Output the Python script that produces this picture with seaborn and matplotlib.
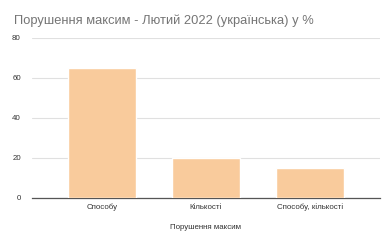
import matplotlib
matplotlib.use("Agg")
import matplotlib.pyplot as plt
import seaborn as sns
import pandas as pd

categories = ["Способу", "Кількості", "Способу, кількості"]
values = [65, 20, 15]
yticks = [0, 20, 40, 60, 80]
title = "Порушення максим - Лютий 2022 (українська) у %"
xlabel = "Порушення максим"

sns.set_theme(style="white")
plt.rcParams['font.family'] = ['Liberation Sans', 'DejaVu Sans']

df = pd.DataFrame({"cat": categories, "val": values})
fig = plt.figure(figsize=(3.85, 2.42), dpi=100)
ax = fig.add_axes([0.083, 0.182, 0.904, 0.661])
sns.barplot(data=df, x="cat", y="val", color="#F9CB9C", saturation=1, width=0.65, ax=ax, zorder=3)
ax.set_ylim(0, 80)
ax.set_xlim(-0.67, 2.67)
ax.set_yticks(yticks)
ax.set_yticklabels([str(t) for t in yticks])
ax.yaxis.grid(True, color="#e0e0e0", linewidth=0.8, zorder=0)
ax.set_axisbelow(True)
for s in ["top", "right", "left"]:
    ax.spines[s].set_visible(False)
ax.spines["bottom"].set_color("#555555")
ax.spines["bottom"].set_linewidth(0.9)
ax.tick_params(axis="both", length=0, labelsize=5.7, colors="#333333")
ax.tick_params(axis="y", pad=8)
ax.tick_params(axis="x", pad=4)
ax.set_ylabel("")
ax.set_xlabel(xlabel, fontsize=5.7, color="#333333", labelpad=9)
fig.text(0.036, 0.915, title, fontsize=9.3, color="#757575", ha="left", va="center")
fig.savefig("out.png", dpi=100, facecolor="white")
